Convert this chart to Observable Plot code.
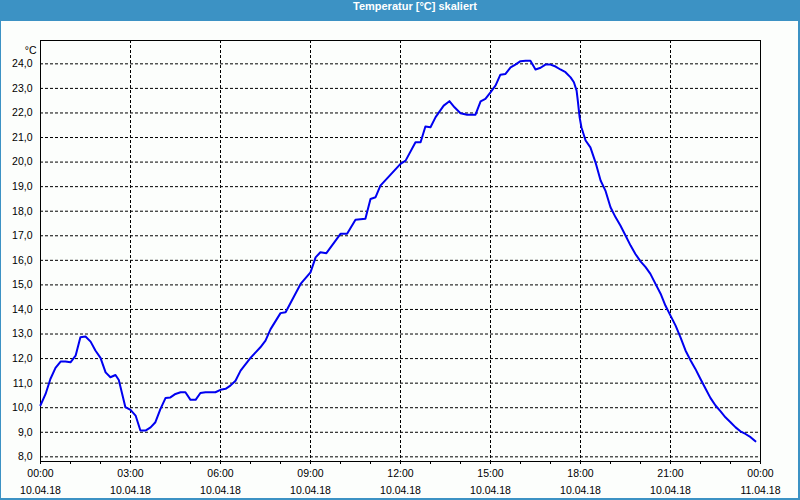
<!DOCTYPE html>
<html>
<head>
<meta charset="utf-8">
<script src="https://cdn.jsdelivr.net/npm/d3@7"></script>
<script src="https://cdn.jsdelivr.net/npm/@observablehq/plot@0.6"></script>
<style>
  html, body { margin: 0; padding: 0; background: #fcfefc; }
  #frame { width: 800px; height: 500px; box-sizing: border-box; border-left: 1px solid #3c92c4; border-right: 2px solid #3c92c4; border-bottom: 2px solid #3c92c4; background: #fcfefc; position: relative; overflow: hidden; }
  #title { height: 21px; line-height: 21px; background: #3c92c4; color: #fff; font: bold 11px "Liberation Sans", Arial, sans-serif; text-align: center; padding-left: 30px; box-sizing: border-box; margin-left: -1px; margin-right: -2px; }
  svg { display: block; }
</style>
</head>
<body>
<div id="frame">
  <div id="title">Temperatur [°C] skaliert</div>
  <div id="chart"></div>
</div>
<script>
// Hours after 10.04.18 00:00
const hours = [0,0.17,0.33,0.5,0.67,0.83,1.0,1.17,1.33,1.5,1.67,1.83,2.0,2.17,2.33,2.5,2.61,2.83,3.0,3.17,3.33,3.5,3.67,3.83,4.0,4.17,4.33,4.5,4.67,4.83,5.0,5.17,5.33,5.5,5.83,6.0,6.17,6.33,6.5,6.67,7.0,7.33,7.5,7.67,8.0,8.17,8.67,9.0,9.17,9.33,9.53,10.0,10.22,10.5,10.83,11.0,11.17,11.33,11.67,12.0,12.17,12.5,12.67,12.83,13.0,13.17,13.44,13.63,13.8,14.0,14.22,14.5,14.67,14.83,15.0,15.17,15.33,15.5,15.67,15.83,16.0,16.17,16.33,16.5,16.67,16.83,17.0,17.17,17.33,17.5,17.67,17.78,17.87,17.91,17.97,18.03,18.17,18.33,18.5,18.67,18.83,19.0,19.17,19.33,19.5,19.67,19.83,20.0,20.17,20.33,20.5,20.67,20.83,21.0,21.17,21.33,21.5,21.67,21.83,22.0,22.17,22.33,22.5,22.67,22.83,23.0,23.17,23.33,23.5,23.67,23.83];
// Temperature in °C
const temps = [10.1,10.56,11.17,11.62,11.88,11.88,11.85,12.12,12.87,12.9,12.69,12.33,12.03,11.44,11.24,11.33,11.13,10.02,9.91,9.68,9.07,9.07,9.2,9.41,9.95,10.4,10.42,10.56,10.63,10.63,10.32,10.32,10.6,10.63,10.63,10.73,10.77,10.9,11.1,11.51,12.03,12.46,12.73,13.2,13.85,13.89,15.04,15.51,16.12,16.33,16.29,17.08,17.08,17.65,17.69,18.5,18.57,19.04,19.49,19.93,20.06,20.81,20.81,21.45,21.42,21.83,22.3,22.48,22.23,21.99,21.93,21.93,22.47,22.57,22.84,23.12,23.56,23.59,23.86,23.97,24.11,24.13,24.13,23.77,23.84,23.97,23.97,23.89,23.77,23.66,23.45,23.25,22.91,22.5,21.83,21.42,20.88,20.6,19.99,19.25,18.84,18.16,17.75,17.42,17.01,16.6,16.26,15.96,15.72,15.45,15.04,14.64,14.16,13.75,13.34,12.87,12.33,11.92,11.58,11.17,10.77,10.4,10.09,9.85,9.61,9.41,9.2,9.04,8.93,8.8,8.63];

const majorTicks = [0,3,6,9,12,15,18,21,24];
const timeLabels = ["00:00","03:00","06:00","09:00","12:00","15:00","18:00","21:00","00:00"];
const dateLabels = ["10.04.18","10.04.18","10.04.18","10.04.18","10.04.18","10.04.18","10.04.18","10.04.18","11.04.18"];
const minorTicks = [0,1,2,3,4,5,6,7,8,9,10,11,12,13,14,15,16,17,18,19,20,21,22,23,24];
const gridXTicks = [3,6,9,12,15,18,21];
const yTicks = [8,9,10,11,12,13,14,15,16,17,18,19,20,21,22,23,24];
const unitLabel = "°C";

const data = hours.map((h, i) => ({h, t: temps[i]}));

const chart = Plot.plot({
  width: 797,
  height: 477,
  marginLeft: 39,
  marginRight: 38,
  marginTop: 19,
  marginBottom: 37,
  style: {fontFamily: '"Liberation Sans", Arial, sans-serif', fontSize: "10.5px", background: "transparent", color: "black", overflow: "visible"},
  x: {domain: [0, 24], axis: null, label: null},
  y: {domain: [7.81, 24.95], axis: null, label: null},
  marks: [
    Plot.gridY({ticks: yTicks, stroke: "black", strokeOpacity: 1, strokeDasharray: "3,2"}),
    Plot.gridX({ticks: gridXTicks, stroke: "black", strokeOpacity: 1, strokeDasharray: "3,2"}),
    Plot.frame({stroke: "black"}),
    Plot.axisX({ticks: minorTicks, tickSize: 3, tickFormat: () => "", label: null}),
    Plot.axisX({ticks: majorTicks, tickSize: 0, tickPadding: 8, label: null, tickFormat: d => timeLabels[majorTicks.indexOf(d)]}),
    Plot.axisX({ticks: majorTicks, tickSize: 0, tickPadding: 25, label: null, tickFormat: d => dateLabels[majorTicks.indexOf(d)]}),
    Plot.axisY({ticks: yTicks, tickSize: 0, tickPadding: 8, label: null, tickFormat: d => d.toFixed(1).replace(".", ",")}),
    Plot.text([unitLabel], {frameAnchor: "top-left", textAnchor: "end", dx: -4, dy: 6, fill: "black"}),
    Plot.line(data, {x: "h", y: "t", stroke: "#0000f0", strokeWidth: 2})
  ]
});
document.getElementById("chart").appendChild(chart);
</script>
</body>
</html>
